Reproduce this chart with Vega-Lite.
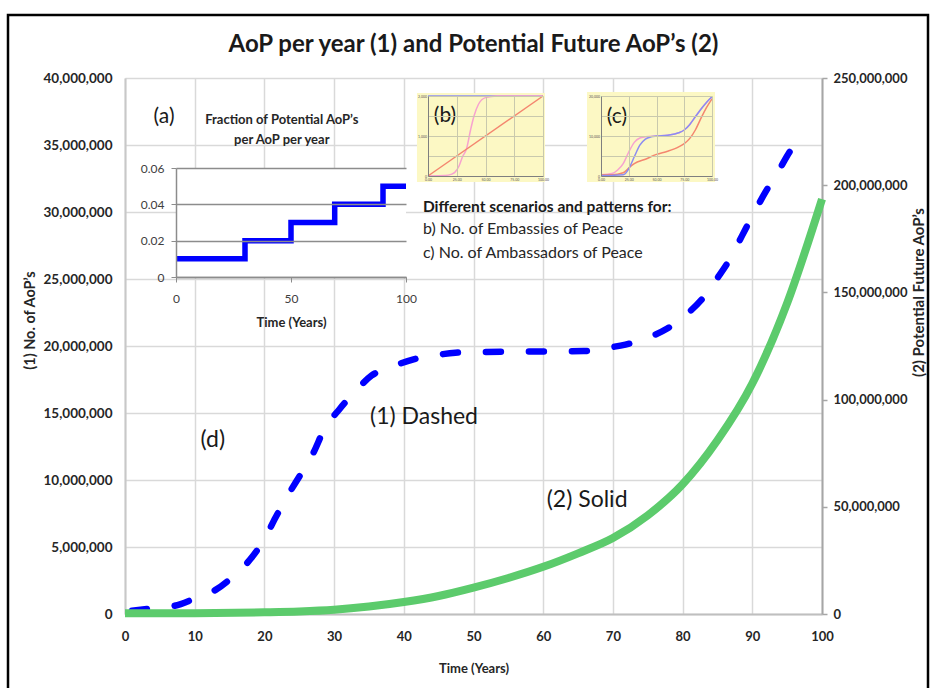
{
  "$schema": "https://vega.github.io/schema/vega-lite/v6.json",
  "width": 697,
  "height": 536,
  "autosize": {"type": "none"},
  "padding": {"left": 125, "top": 78, "right": 109, "bottom": 74},
  "background": "#ffffff",
  "config": {"view": {"stroke": null}, "font": "Lato"},
  "datasets": {
    "aop": [
      {"Time": 1, "AoP": 250000}, {"Time": 4, "AoP": 430000}, {"Time": 7, "AoP": 600000},
      {"Time": 10, "AoP": 1150000}, {"Time": 13, "AoP": 1800000}, {"Time": 15.5, "AoP": 2800000},
      {"Time": 18, "AoP": 4100000}, {"Time": 20, "AoP": 5600000}, {"Time": 21.6, "AoP": 7200000},
      {"Time": 23.3, "AoP": 8800000}, {"Time": 25.3, "AoP": 10500000}, {"Time": 27, "AoP": 12000000},
      {"Time": 28.6, "AoP": 13800000}, {"Time": 30.8, "AoP": 15300000}, {"Time": 33, "AoP": 16600000},
      {"Time": 35.4, "AoP": 17800000}, {"Time": 38.5, "AoP": 18500000}, {"Time": 41.4, "AoP": 19000000},
      {"Time": 44.5, "AoP": 19300000}, {"Time": 47.4, "AoP": 19500000}, {"Time": 50.5, "AoP": 19550000},
      {"Time": 56.5, "AoP": 19580000}, {"Time": 62.7, "AoP": 19600000}, {"Time": 65.8, "AoP": 19620000},
      {"Time": 68.9, "AoP": 19850000}, {"Time": 71.8, "AoP": 20100000}, {"Time": 74.9, "AoP": 20600000},
      {"Time": 77.8, "AoP": 21300000}, {"Time": 80.4, "AoP": 22300000}, {"Time": 82.8, "AoP": 23500000},
      {"Time": 84.9, "AoP": 25000000}, {"Time": 86.8, "AoP": 26500000}, {"Time": 88.5, "AoP": 28200000},
      {"Time": 90.2, "AoP": 29900000}, {"Time": 91.9, "AoP": 31500000}, {"Time": 93.8, "AoP": 33100000},
      {"Time": 95.5, "AoP": 34600000}, {"Time": 97.8, "AoP": 36000000}
    ],
    "potential": [
      {"Time": 0, "Potential": 300000}, {"Time": 10, "Potential": 400000}, {"Time": 20, "Potential": 800000},
      {"Time": 25, "Potential": 1200000}, {"Time": 30, "Potential": 2000000}, {"Time": 35, "Potential": 3500000},
      {"Time": 40, "Potential": 5600000}, {"Time": 45, "Potential": 8400000}, {"Time": 50, "Potential": 12300000},
      {"Time": 55, "Potential": 16800000}, {"Time": 60, "Potential": 22000000}, {"Time": 65, "Potential": 28300000},
      {"Time": 70, "Potential": 35400000}, {"Time": 75, "Potential": 46000000}, {"Time": 80, "Potential": 60500000},
      {"Time": 85, "Potential": 81000000}, {"Time": 90, "Potential": 107500000}, {"Time": 95, "Potential": 145000000},
      {"Time": 100, "Potential": 193500000}
    ],
    "fraction": [
      {"Time": 0, "Fraction": 0.01}, {"Time": 30, "Fraction": 0.02}, {"Time": 50, "Fraction": 0.03},
      {"Time": 69, "Fraction": 0.04}, {"Time": 90, "Fraction": 0.05}, {"Time": 100, "Fraction": 0.05}
    ],
    "embassies": [
      {"Time": 0, "Value": 2000, "Series": "Scenario 1"}, {"Time": 100, "Value": 2000, "Series": "Scenario 1"},
      {"Time": 0, "Value": 0, "Series": "Scenario 2"}, {"Time": 15, "Value": 10, "Series": "Scenario 2"},
      {"Time": 20, "Value": 40, "Series": "Scenario 2"}, {"Time": 23.3, "Value": 90, "Series": "Scenario 2"},
      {"Time": 27, "Value": 250, "Series": "Scenario 2"}, {"Time": 30, "Value": 480, "Series": "Scenario 2"},
      {"Time": 33.5, "Value": 680, "Series": "Scenario 2"}, {"Time": 37, "Value": 1150, "Series": "Scenario 2"},
      {"Time": 40, "Value": 1500, "Series": "Scenario 2"}, {"Time": 44, "Value": 1800, "Series": "Scenario 2"},
      {"Time": 50, "Value": 1960, "Series": "Scenario 2"}, {"Time": 60, "Value": 2000, "Series": "Scenario 2"},
      {"Time": 100, "Value": 2000, "Series": "Scenario 2"},
      {"Time": 0, "Value": 0, "Series": "Scenario 3"}, {"Time": 100, "Value": 2000, "Series": "Scenario 3"}
    ],
    "ambassadors": [
      {"Time": 0, "Value": 300, "Series": "Scenario 2"}, {"Time": 10, "Value": 600, "Series": "Scenario 2"},
      {"Time": 15, "Value": 1500, "Series": "Scenario 2"}, {"Time": 20, "Value": 3100, "Series": "Scenario 2"},
      {"Time": 25, "Value": 6000, "Series": "Scenario 2"}, {"Time": 30, "Value": 8400, "Series": "Scenario 2"},
      {"Time": 35, "Value": 9500, "Series": "Scenario 2"}, {"Time": 40, "Value": 9800, "Series": "Scenario 2"},
      {"Time": 50, "Value": 10000, "Series": "Scenario 2"}, {"Time": 60, "Value": 10200, "Series": "Scenario 2"},
      {"Time": 70, "Value": 10800, "Series": "Scenario 2"}, {"Time": 75, "Value": 11500, "Series": "Scenario 2"},
      {"Time": 80, "Value": 12900, "Series": "Scenario 2"}, {"Time": 85, "Value": 14800, "Series": "Scenario 2"},
      {"Time": 90, "Value": 16700, "Series": "Scenario 2"}, {"Time": 95, "Value": 18400, "Series": "Scenario 2"},
      {"Time": 100, "Value": 19800, "Series": "Scenario 2"},
      {"Time": 0, "Value": 300, "Series": "Scenario 3"}, {"Time": 10, "Value": 300, "Series": "Scenario 3"},
      {"Time": 20, "Value": 800, "Series": "Scenario 3"}, {"Time": 25, "Value": 2000, "Series": "Scenario 3"},
      {"Time": 30, "Value": 3100, "Series": "Scenario 3"}, {"Time": 40, "Value": 4200, "Series": "Scenario 3"},
      {"Time": 50, "Value": 5400, "Series": "Scenario 3"}, {"Time": 60, "Value": 6200, "Series": "Scenario 3"},
      {"Time": 70, "Value": 7300, "Series": "Scenario 3"}, {"Time": 75, "Value": 8100, "Series": "Scenario 3"},
      {"Time": 80, "Value": 9400, "Series": "Scenario 3"}, {"Time": 85, "Value": 11500, "Series": "Scenario 3"},
      {"Time": 90, "Value": 14400, "Series": "Scenario 3"}, {"Time": 95, "Value": 17100, "Series": "Scenario 3"},
      {"Time": 100, "Value": 19300, "Series": "Scenario 3"},
      {"Time": 0, "Value": 100, "Series": "Scenario 1"}, {"Time": 10, "Value": 150, "Series": "Scenario 1"},
      {"Time": 20, "Value": 300, "Series": "Scenario 1"}, {"Time": 25, "Value": 1800, "Series": "Scenario 1"},
      {"Time": 30, "Value": 4800, "Series": "Scenario 1"}, {"Time": 35, "Value": 7700, "Series": "Scenario 1"},
      {"Time": 40, "Value": 9200, "Series": "Scenario 1"}, {"Time": 45, "Value": 9800, "Series": "Scenario 1"},
      {"Time": 50, "Value": 10000, "Series": "Scenario 1"}, {"Time": 60, "Value": 10200, "Series": "Scenario 1"},
      {"Time": 70, "Value": 10800, "Series": "Scenario 1"}, {"Time": 75, "Value": 11500, "Series": "Scenario 1"},
      {"Time": 80, "Value": 12900, "Series": "Scenario 1"}, {"Time": 85, "Value": 14800, "Series": "Scenario 1"},
      {"Time": 90, "Value": 16700, "Series": "Scenario 1"}, {"Time": 95, "Value": 18400, "Series": "Scenario 1"},
      {"Time": 100, "Value": 19800, "Series": "Scenario 1"}
    ]
  },
  "layer": [
    {
      "layer": [
        {
          "data": {"name": "aop"},
          "mark": {"type": "line", "color": "#0000ff", "strokeWidth": 6.5, "strokeDash": [15, 28], "strokeCap": "round", "interpolate": "monotone"},
          "encoding": {
            "x": {"field": "Time", "type": "quantitative", "scale": {"domain": [0, 100], "nice": false, "zero": false},
              "axis": {"orient": "bottom", "values": [0, 10, 20, 30, 40, 50, 60, 70, 80, 90, 100], "title": "Time (Years)",
                "grid": true, "gridColor": "#d9d9d9", "gridWidth": 1.5, "domainColor": "#bfbfbf", "domainWidth": 2,
                "ticks": false, "tickSize": 0, "labelPadding": 16, "labelFontSize": 13, "labelFontWeight": "bold",
                "labelColor": "#262626", "labelFlush": false, "titleFontSize": 13, "titleFontWeight": "bold",
                "titleColor": "#262626", "titlePadding": 19}},
            "y": {"field": "AoP", "type": "quantitative", "scale": {"domain": [0, 40000000], "nice": false},
              "axis": {"orient": "left", "values": [0, 5000000, 10000000, 15000000, 20000000, 25000000, 30000000, 35000000, 40000000],
                "format": ",d", "title": "(1) No. of AoP’s", "grid": true, "gridColor": "#d9d9d9", "gridWidth": 1.5,
                "domainColor": "#c8c8c8", "domainWidth": 2, "ticks": false, "tickSize": 0, "labelPadding": 13,
                "labelFontSize": 13.5, "labelFontWeight": "bold", "labelColor": "#262626", "titleFontSize": 14.5,
                "titleFontWeight": "bold", "titleColor": "#262626", "titleX": -95, "titleY": 242, "titleBaseline": "middle"}}
          }
        },
        {
          "data": {"name": "potential"},
          "mark": {"type": "line", "color": "#5ccb6c", "strokeWidth": 8, "interpolate": "monotone"},
          "encoding": {
            "x": {"field": "Time", "type": "quantitative", "scale": {"domain": [0, 100], "nice": false, "zero": false}, "axis": null},
            "y": {"field": "Potential", "type": "quantitative", "scale": {"domain": [0, 250000000], "nice": false},
              "axis": {"orient": "right", "values": [0, 50000000, 100000000, 150000000, 200000000, 250000000], "format": ",d",
                "title": "(2) Potential Future AoP’s", "grid": false, "domainColor": "#a6a6a6", "domainWidth": 2,
                "ticks": true, "tickSize": 5, "tickColor": "#a6a6a6", "tickWidth": 1.5, "labelPadding": 6,
                "labelFontSize": 13, "labelFontWeight": "bold", "labelColor": "#262626", "titleFontSize": 15,
                "titleFontWeight": "bold", "titleColor": "#262626", "titleAngle": 270, "titleBaseline": "middle",
                "titleX": 96, "titleY": 214}}
          }
        },
        {
          "data": {"values": [{}]},
          "mark": {"type": "text", "fontSize": 24, "fontWeight": "bold", "color": "#1a1a1a", "align": "center", "baseline": "middle"},
          "encoding": {
            "x": {"datum": 50, "type": "quantitative", "scale": {"domain": [0, 100], "nice": false, "zero": false}, "axis": null},
            "y": {"datum": 42460000, "type": "quantitative", "scale": {"domain": [0, 40000000], "nice": false}, "axis": null},
            "text": {"value": "AoP per year (1) and Potential Future AoP’s (2)"}
          }
        },
        {
          "data": {"values": [{}]},
          "mark": {"type": "text", "fontSize": 23, "color": "#1a1a1a", "align": "center", "baseline": "middle"},
          "encoding": {
            "x": {"datum": 42.9, "type": "quantitative", "scale": {"domain": [0, 100], "nice": false, "zero": false}, "axis": null},
            "y": {"datum": 14700000, "type": "quantitative", "scale": {"domain": [0, 40000000], "nice": false}, "axis": null},
            "text": {"value": "(1) Dashed"}
          }
        },
        {
          "data": {"values": [{}]},
          "mark": {"type": "text", "fontSize": 23, "color": "#1a1a1a", "align": "center", "baseline": "middle"},
          "encoding": {
            "x": {"datum": 66.3, "type": "quantitative", "scale": {"domain": [0, 100], "nice": false, "zero": false}, "axis": null},
            "y": {"datum": 8500000, "type": "quantitative", "scale": {"domain": [0, 40000000], "nice": false}, "axis": null},
            "text": {"value": "(2) Solid"}
          }
        },
        {
          "data": {"values": [{}]},
          "mark": {"type": "text", "fontSize": 23, "color": "#1a1a1a", "align": "center", "baseline": "middle"},
          "encoding": {
            "x": {"datum": 12.6, "type": "quantitative", "scale": {"domain": [0, 100], "nice": false, "zero": false}, "axis": null},
            "y": {"datum": 13000000, "type": "quantitative", "scale": {"domain": [0, 40000000], "nice": false}, "axis": null},
            "text": {"value": "(d)"}
          }
        },
        {
          "data": {"values": [{}]},
          "mark": {"type": "text", "fontSize": 15.5, "fontWeight": "bold", "color": "#1a1a1a", "align": "left", "baseline": "middle"},
          "encoding": {
            "x": {"datum": 42.75, "type": "quantitative", "scale": {"domain": [0, 100], "nice": false, "zero": false}, "axis": null},
            "y": {"datum": 30400000, "type": "quantitative", "scale": {"domain": [0, 40000000], "nice": false}, "axis": null},
            "text": {"value": "Different scenarios and patterns for:"}
          }
        },
        {
          "data": {"values": [{}]},
          "mark": {"type": "text", "fontSize": 16, "color": "#262626", "align": "left", "baseline": "top", "lineHeight": 24},
          "encoding": {
            "x": {"datum": 42.75, "type": "quantitative", "scale": {"domain": [0, 100], "nice": false, "zero": false}, "axis": null},
            "y": {"datum": 29300000, "type": "quantitative", "scale": {"domain": [0, 40000000], "nice": false}, "axis": null},
            "text": {"value": ["b) No. of Embassies of Peace", "c) No. of Ambassadors of Peace"]}
          }
        }
      ],
      "resolve": {"scale": {"x": "independent", "y": "independent"}}
    },
    {
      "layer": [
        {
          "data": {"values": [{}]},
          "mark": {"type": "rect", "fill": "#ffffff"},
          "encoding": {
            "x": {"datum": 0, "type": "quantitative", "scale": {"domain": [0, 100], "range": [51, 281], "nice": false, "zero": false}, "axis": null},
            "x2": {"datum": 100},
            "y": {"datum": 0, "type": "quantitative", "scale": {"domain": [0, 0.06], "range": [199, 90], "nice": false}, "axis": null},
            "y2": {"datum": 0.06}
          }
        },
        {
          "data": {"name": "fraction"},
          "mark": {"type": "line", "color": "#0000ff", "strokeWidth": 5.5, "interpolate": "step-after"},
          "encoding": {
            "x": {"field": "Time", "type": "quantitative", "scale": {"domain": [0, 100], "range": [51, 281], "nice": false, "zero": false},
              "axis": {"orient": "bottom", "offset": -337, "values": [0, 50, 100], "title": "Time (Years)", "grid": false,
                "domainColor": "#8c8c8c", "domainWidth": 1.5, "ticks": true, "tickSize": 5, "tickColor": "#8c8c8c",
                "labelPadding": 11, "labelFontSize": 12, "labelColor": "#404040", "labelFlush": false,
                "titleFontSize": 13, "titleFontWeight": "bold", "titleColor": "#262626", "titlePadding": 12, "zindex": 1}},
            "y": {"field": "Fraction", "type": "quantitative", "scale": {"domain": [0, 0.06], "range": [199, 90], "nice": false},
              "axis": {"orient": "left", "offset": -51, "values": [0, 0.02, 0.04, 0.06],
                "labelExpr": "datum.value == 0 ? '0' : format(datum.value, '.2f')", "title": null, "grid": true,
                "gridColor": "#8c8c8c", "gridWidth": 1.5, "domainColor": "#8c8c8c", "domainWidth": 1.5,
                "tickSize": 5, "tickColor": "#8c8c8c", "labelPadding": 7, "labelFontSize": 12, "labelColor": "#404040", "zindex": 1}},
            "order": {"value": 2}
          }
        },
        {
          "data": {"values": [{}]},
          "mark": {"type": "text", "fontSize": 21, "color": "#1a1a1a", "align": "center", "baseline": "middle"},
          "encoding": {
            "x": {"datum": -5.2, "type": "quantitative", "scale": {"domain": [0, 100], "range": [51, 281], "nice": false, "zero": false}, "axis": null},
            "y": {"datum": 0.0881, "type": "quantitative", "scale": {"domain": [0, 0.06], "range": [199, 90], "nice": false}, "axis": null},
            "text": {"value": "(a)"}
          }
        },
        {
          "data": {"values": [{}]},
          "mark": {"type": "text", "fontSize": 13, "fontWeight": "bold", "color": "#262626", "align": "center", "baseline": "top", "lineHeight": 20},
          "encoding": {
            "x": {"datum": 46, "type": "quantitative", "scale": {"domain": [0, 100], "range": [51, 281], "nice": false, "zero": false}, "axis": null},
            "y": {"datum": 0.0897, "type": "quantitative", "scale": {"domain": [0, 0.06], "range": [199, 90], "nice": false}, "axis": null},
            "text": {"value": ["Fraction of Potential AoP’s", "per AoP per year"]}
          }
        }
      ],
      "resolve": {"scale": {"x": "independent", "y": "independent"}}
    },
    {
      "layer": [
        {
          "data": {"values": [{}]},
          "mark": {"type": "rect", "fill": "#fcf8c4"},
          "encoding": {
            "x": {"datum": -9.6, "type": "quantitative", "scale": {"domain": [0, 100], "range": [303, 418], "nice": false, "zero": false},
              "axis": {"orient": "top", "offset": -18, "values": [25, 50, 75, 100], "grid": true, "gridColor": "#c9c9ad", "gridWidth": 1,
                "labels": false, "ticks": false, "domain": false, "title": null, "zindex": 1}},
            "x2": {"datum": 101.7},
            "y": {"datum": -150, "type": "quantitative", "scale": {"domain": [0, 2000], "range": [98, 18], "nice": false},
              "axis": {"orient": "left", "offset": -303, "values": [500, 1000, 1500, 2000], "grid": true, "gridColor": "#c9c9ad", "gridWidth": 1,
                "labels": false, "ticks": false, "domain": false, "title": null, "zindex": 1}},
            "y2": {"datum": 2075}
          }
        },
        {
          "data": {"name": "embassies"},
          "mark": {"type": "line", "strokeWidth": 1.5, "interpolate": "monotone"},
          "encoding": {
            "x": {"field": "Time", "type": "quantitative", "scale": {"domain": [0, 100], "range": [303, 418], "nice": false, "zero": false},
              "axis": {"orient": "bottom", "offset": -438, "values": [0, 25, 50, 75, 100], "format": ".2f", "grid": false, "ticks": false,
                "domainColor": "#7f7f7f", "domainWidth": 1, "labelFontSize": 3.5, "labelColor": "#555555", "labelPadding": 1,
                "labelFlush": false, "title": null, "zindex": 1}},
            "y": {"field": "Value", "type": "quantitative", "scale": {"domain": [0, 2000], "range": [98, 18], "nice": false},
              "axis": {"orient": "left", "offset": -303, "values": [0, 1000, 2000], "grid": false, "ticks": false,
                "domainColor": "#7f7f7f", "domainWidth": 1, "labelFontSize": 3.5, "labelColor": "#555555", "labelPadding": 1.5,
                "title": null, "zindex": 1}},
            "color": {"field": "Series", "type": "nominal", "scale": {"domain": ["Scenario 1", "Scenario 2", "Scenario 3"], "range": ["#8c8cf2", "#f7a2cf", "#f4866f"]}, "legend": null},
            "order": {"value": 2}
          }
        },
        {
          "data": {"values": [{}]},
          "mark": {"type": "text", "fontSize": 21, "color": "#1a1a1a", "align": "center", "baseline": "middle"},
          "encoding": {
            "x": {"datum": 14.8, "type": "quantitative", "scale": {"domain": [0, 100], "range": [303, 418], "nice": false, "zero": false}, "axis": null},
            "y": {"datum": 1500, "type": "quantitative", "scale": {"domain": [0, 2000], "range": [98, 18], "nice": false}, "axis": null},
            "text": {"value": "(b)"}
          }
        }
      ],
      "resolve": {"scale": {"x": "independent", "y": "independent"}}
    },
    {
      "layer": [
        {
          "data": {"values": [{}]},
          "mark": {"type": "rect", "fill": "#fcf8c4"},
          "encoding": {
            "x": {"datum": -12.6, "type": "quantitative", "scale": {"domain": [0, 100], "range": [476, 587], "nice": false, "zero": false},
              "axis": {"orient": "top", "offset": -18, "values": [25, 50, 75, 100], "grid": true, "gridColor": "#c9c9ad", "gridWidth": 1,
                "labels": false, "ticks": false, "domain": false, "title": null, "zindex": 1}},
            "x2": {"datum": 102.7},
            "y": {"datum": -1500, "type": "quantitative", "scale": {"domain": [0, 20000], "range": [98, 18], "nice": false},
              "axis": {"orient": "left", "offset": -476, "values": [5000, 10000, 15000, 20000], "grid": true, "gridColor": "#c9c9ad", "gridWidth": 1,
                "labels": false, "ticks": false, "domain": false, "title": null, "zindex": 1}},
            "y2": {"datum": 21000}
          }
        },
        {
          "data": {"name": "ambassadors"},
          "mark": {"type": "line", "strokeWidth": 1.5, "interpolate": "monotone"},
          "encoding": {
            "x": {"field": "Time", "type": "quantitative", "scale": {"domain": [0, 100], "range": [476, 587], "nice": false, "zero": false},
              "axis": {"orient": "bottom", "offset": -438, "values": [0, 25, 50, 75, 100], "format": ".2f", "grid": false, "ticks": false,
                "domainColor": "#7f7f7f", "domainWidth": 1, "labelFontSize": 3.5, "labelColor": "#555555", "labelPadding": 1,
                "labelFlush": false, "title": null, "zindex": 1}},
            "y": {"field": "Value", "type": "quantitative", "scale": {"domain": [0, 20000], "range": [98, 18], "nice": false},
              "axis": {"orient": "left", "offset": -476, "values": [0, 10000, 20000], "grid": false, "ticks": false,
                "domainColor": "#7f7f7f", "domainWidth": 1, "labelFontSize": 3.5, "labelColor": "#555555", "labelPadding": 1.5,
                "title": null, "zindex": 1}},
            "color": {"field": "Series", "type": "nominal", "scale": {"domain": ["Scenario 1", "Scenario 2", "Scenario 3"], "range": ["#8c8cf2", "#f7a2cf", "#f4866f"]}, "legend": null},
            "order": {"value": 2}
          }
        },
        {
          "data": {"values": [{}]},
          "mark": {"type": "text", "fontSize": 21, "color": "#1a1a1a", "align": "center", "baseline": "middle"},
          "encoding": {
            "x": {"datum": 14.4, "type": "quantitative", "scale": {"domain": [0, 100], "range": [476, 587], "nice": false, "zero": false}, "axis": null},
            "y": {"datum": 14875, "type": "quantitative", "scale": {"domain": [0, 20000], "range": [98, 18], "nice": false}, "axis": null},
            "text": {"value": "(c)"}
          }
        }
      ],
      "resolve": {"scale": {"x": "independent", "y": "independent"}}
    },
    {
      "data": {"values": [{}]},
      "mark": {"type": "rect", "fill": null, "stroke": "#000000", "strokeWidth": 2.5},
      "encoding": {
        "x": {"datum": 0, "type": "quantitative", "scale": {"domain": [0, 1], "range": [-117, 803], "nice": false, "zero": false}, "axis": null},
        "x2": {"datum": 1},
        "y": {"datum": 0, "type": "quantitative", "scale": {"domain": [0, 1], "range": [622, -63], "nice": false, "zero": false}, "axis": null},
        "y2": {"datum": 1}
      }
    }
  ],
  "resolve": {"scale": {"x": "independent", "y": "independent"}}
}
